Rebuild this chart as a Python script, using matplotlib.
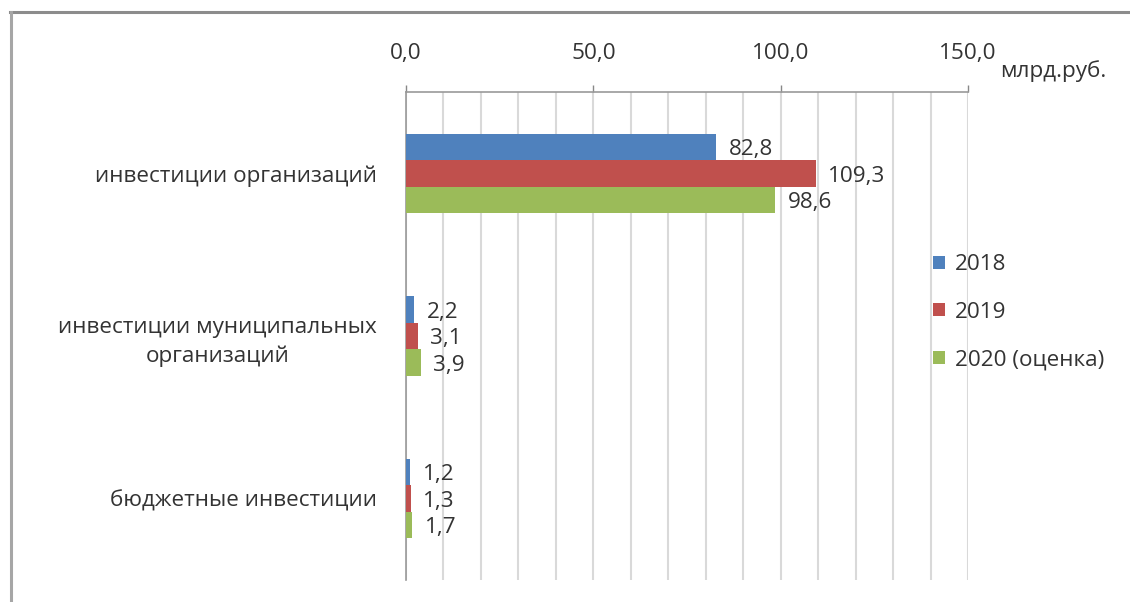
import matplotlib
matplotlib.use('Agg')
import matplotlib.pyplot as plt
from matplotlib.lines import Line2D
from matplotlib.ticker import MultipleLocator, FixedLocator
import numpy as np

plt.rcParams['font.family'] = ['Open Sans', 'DejaVu Sans']

categories = ['инвестиции организаций',
              'инвестиции муниципальных\nорганизаций',
              'бюджетные инвестиции']
series_names = ['2018', '2019', '2020 (оценка)']
v2018 = [82.8, 2.2, 1.2]
v2019 = [109.3, 3.1, 1.3]
v2020 = [98.6, 3.9, 1.7]
colors = ['#4F81BD', '#C0504D', '#9BBB59']
unit = 'млрд.руб.'
text_col = '#333333'
fs = 16.2

W, H = 1130, 602
fig = plt.figure(figsize=(W / 100, H / 100), dpi=100)
ax = fig.add_axes([406 / W, 1 - 580 / H, (968 - 406) / W, (580 - 92) / H])

y = np.arange(len(categories))
bh = 0.163
for i, (vals, name, c) in enumerate(zip([v2018, v2019, v2020], series_names, colors)):
    pos = y + (i - 1) * bh
    ax.barh(pos, vals, height=bh, color=c, label=name, zorder=3)
    for p, v in zip(pos, vals):
        ax.annotate(f'{v:.1f}'.replace('.', ','), (v, p), xytext=(9, -2),
                    textcoords='offset points', va='center', ha='left',
                    fontsize=fs, color=text_col)

ax.set_xlim(0, 150)
ax.set_ylim(len(categories) - 0.5, -0.5)
ax.xaxis.tick_top()
ax.xaxis.set_major_locator(FixedLocator([0, 50, 100, 150]))
ax.xaxis.set_minor_locator(MultipleLocator(10))
ax.set_xticklabels(['0,0', '50,0', '100,0', '150,0'])
ax.tick_params(axis='x', which='major', length=5, width=1, color='#888888',
               pad=15.5, labelsize=fs, labelcolor=text_col)
ax.tick_params(axis='x', which='minor', length=0)
ax.grid(axis='x', which='both', color='#d9d9d9', lw=1.5, zorder=0)
ax.set_axisbelow(True)

ax.set_yticks(y)
ax.set_yticklabels(categories, multialignment='center', linespacing=1.45)
ax.tick_params(axis='y', length=0, pad=21, labelsize=fs, labelcolor=text_col)

for s in ['right', 'bottom']:
    ax.spines[s].set_visible(False)
for s in ['top', 'left']:
    ax.spines[s].set_color('#999999')
    ax.spines[s].set_linewidth(1.2)

fig.text(1000 / W, 1 - 71 / H, unit, fontsize=fs, color=text_col, va='center', ha='left')

leg = fig.legend(loc='upper left', bbox_to_anchor=(922 / W, 1 - 243 / H), frameon=False,
                 fontsize=fs, handlelength=0.5, handleheight=0.5, handletextpad=0.45,
                 labelspacing=1.18, borderpad=0)
for t in leg.get_texts():
    t.set_color(text_col)

# grey frame of the cropped screenshot (top and left only)
fig.add_artist(Line2D([10 / W, 1], [1 - 12 / H, 1 - 12 / H], color='#8c8c8c', lw=2.2))
fig.add_artist(Line2D([10.5 / W, 10.5 / W], [0, 1 - 12 / H], color='#a6a6a6', lw=2.2))

fig.savefig('out.png', dpi=100)
